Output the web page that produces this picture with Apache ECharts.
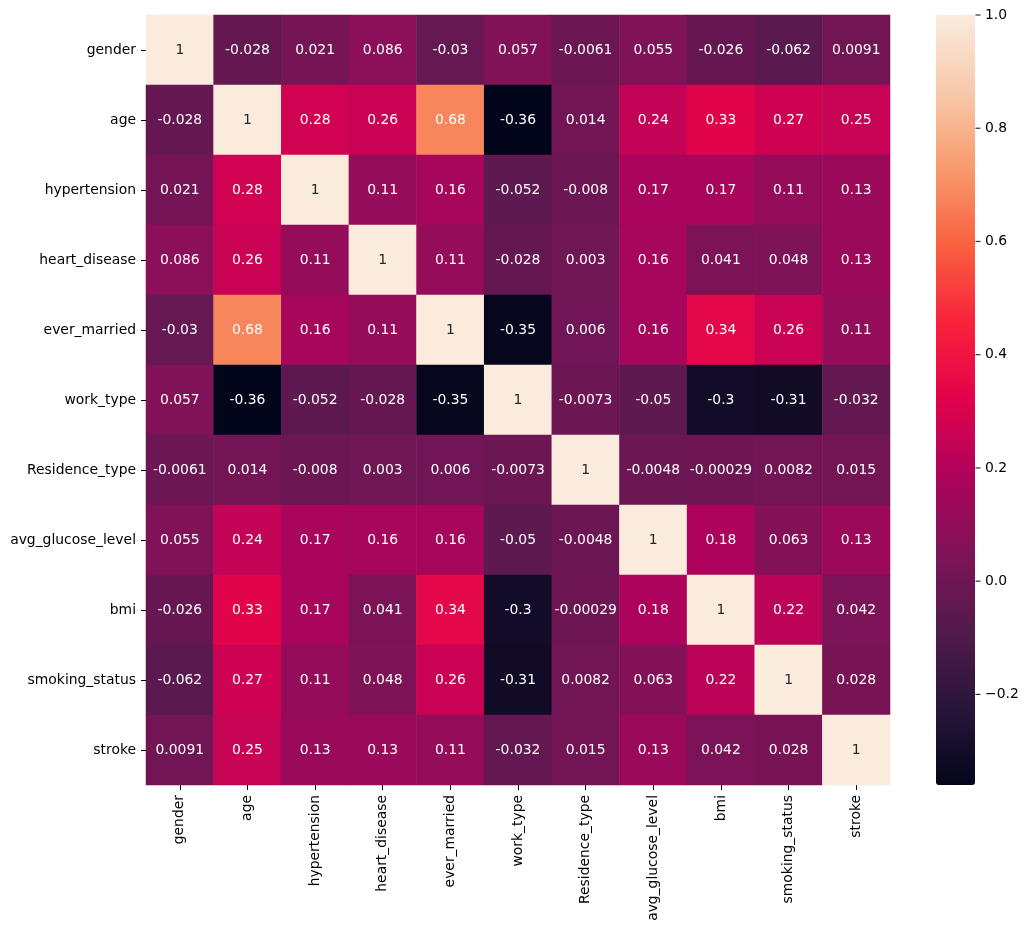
<!DOCTYPE html>
<html>
<head>
<meta charset="utf-8">
<script src="https://cdn.jsdelivr.net/npm/echarts@6/dist/echarts.min.js"></script>
<style>
html,body{margin:0;padding:0;background:#fff;}
#chart{width:1028px;height:931px;}
</style>
</head>
<body>
<div id="chart"></div>
<script>
const labels = ["gender","age","hypertension","heart_disease","ever_married","work_type","Residence_type","avg_glucose_level","bmi","smoking_status","stroke"];
const rowGender      = [1, -0.028, 0.021, 0.086, -0.03, 0.057, -0.0061, 0.055, -0.026, -0.062, 0.0091];
const rowAge         = [-0.028, 1, 0.28, 0.26, 0.68, -0.36, 0.014, 0.24, 0.33, 0.27, 0.25];
const rowHypertension= [0.021, 0.28, 1, 0.11, 0.16, -0.052, -0.008, 0.17, 0.17, 0.11, 0.13];
const rowHeart       = [0.086, 0.26, 0.11, 1, 0.11, -0.028, 0.003, 0.16, 0.041, 0.048, 0.13];
const rowMarried     = [-0.03, 0.68, 0.16, 0.11, 1, -0.35, 0.006, 0.16, 0.34, 0.26, 0.11];
const rowWork        = [0.057, -0.36, -0.052, -0.028, -0.35, 1, -0.0073, -0.05, -0.3, -0.31, -0.032];
const rowResidence   = [-0.0061, 0.014, -0.008, 0.003, 0.006, -0.0073, 1, -0.0048, -0.00029, 0.0082, 0.015];
const rowGlucose     = [0.055, 0.24, 0.17, 0.16, 0.16, -0.05, -0.0048, 1, 0.18, 0.063, 0.13];
const rowBmi         = [-0.026, 0.33, 0.17, 0.041, 0.34, -0.3, -0.00029, 0.18, 1, 0.22, 0.042];
const rowSmoking     = [-0.062, 0.27, 0.11, 0.048, 0.26, -0.31, 0.0082, 0.063, 0.22, 1, 0.028];
const rowStroke      = [0.0091, 0.25, 0.13, 0.13, 0.11, -0.032, 0.015, 0.13, 0.042, 0.028, 1];
const matrix = [rowGender,rowAge,rowHypertension,rowHeart,rowMarried,rowWork,rowResidence,rowGlucose,rowBmi,rowSmoking,rowStroke];
const colorbarTicks = [-0.2, 0, 0.2, 0.4, 0.6, 0.8, 1.0];
const vMin = -0.36, vMax = 1;
const rocket = ['#03051A','#28153A','#521B4D','#7E1358','#AE035C','#E0024C','#F8223A','#F9603F','#F89A6C','#F8C9AB','#FAEBDD'];

const FONT = 'DejaVu Sans';
const FS = 13.9;

const data = [];
matrix.forEach((row, r) => {
  row.forEach((v, c) => {
    data.push({value: [c, r, v], label: {color: v > 0.8 ? '#262626' : '#ffffff'}});
  });
});

const chart = echarts.init(document.getElementById('chart'), null, {renderer: 'canvas'});
chart.setOption({
  backgroundColor: '#ffffff',
  animation: false,
  grid: [
    {left: 146, top: 15, width: 744, height: 770},
    {left: 936, top: 15, width: 39, height: 770}
  ],
  xAxis: [
    {
      type: 'category', gridIndex: 0, data: labels, position: 'bottom',
      axisLine: {show: false},
      axisTick: {show: true, alignWithLabel: true, length: 5, lineStyle: {color: '#000', width: 1}},
      axisLabel: {rotate: 90, margin: 10, color: '#000', fontFamily: FONT, fontSize: FS, interval: 0},
      splitLine: {show: false}
    },
    {type: 'value', gridIndex: 1, show: false, min: 0, max: 1, axisLine: {onZero: false}}
  ],
  yAxis: [
    {
      type: 'category', gridIndex: 0, data: labels, inverse: true,
      axisLine: {show: false},
      axisTick: {show: true, alignWithLabel: true, length: 5, lineStyle: {color: '#000', width: 1}},
      axisLabel: {margin: 10, color: '#000', fontFamily: FONT, fontSize: FS, interval: 0},
      splitLine: {show: false}
    },
    {
      type: 'value', gridIndex: 1, min: vMin, max: vMax, position: 'right',
      axisLine: {show: false, onZero: false},
      splitLine: {show: false},
      axisTick: {show: false},
      axisLabel: {show: true, margin: 10, customValues: colorbarTicks, color: '#000', fontFamily: FONT, fontSize: FS,
        formatter: v => v.toFixed(1).replace('-', '\u2212')}
    }
  ],
  visualMap: {
    type: 'continuous', min: vMin, max: vMax, seriesIndex: 0,
    calculable: false, hoverLink: false,
    left: 936, top: 15, itemWidth: 39, itemHeight: 770, padding: 0,
    orient: 'vertical',
    inRange: {color: rocket},
    text: null
  },
  series: [{
    type: 'heatmap', xAxisIndex: 0, yAxisIndex: 0,
    data: data,
    itemStyle: {borderWidth: 0},
    label: {
      show: true, fontFamily: FONT, fontSize: FS,
      formatter: p => String(p.value[2])
    },
    emphasis: {disabled: true}
  }, {
    type: 'scatter', xAxisIndex: 1, yAxisIndex: 1, silent: true,
    data: colorbarTicks.map(v => [1, v]),
    symbol: 'rect', symbolSize: [5, 1.2], symbolOffset: [3, 0],
    itemStyle: {color: '#000'},
    z: 10
  }]
});
</script>
</body>
</html>
